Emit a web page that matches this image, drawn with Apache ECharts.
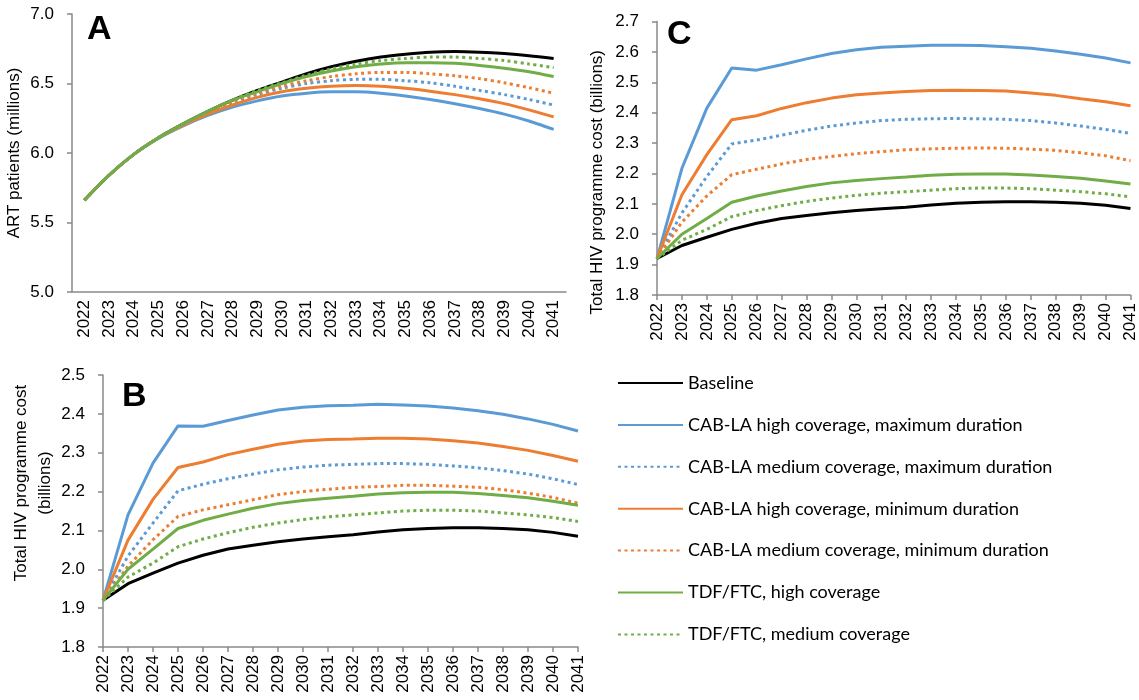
<!DOCTYPE html>
<html>
<head>
<meta charset="utf-8">
<script src="https://cdn.jsdelivr.net/npm/echarts@6/dist/echarts.min.js"></script>
<style>
  html, body { margin: 0; background: #fff; }
  #chart { width: 1139px; height: 700px; }
</style>
</head>
<body>
<div id="chart"></div>
<script>
const years = ['2022', '2023', '2024', '2025', '2026', '2027', '2028', '2029', '2030', '2031',
  '2032', '2033', '2034', '2035', '2036', '2037', '2038', '2039', '2040', '2041']

const names = [
  'Baseline',
  'CAB-LA high coverage, maximum duration',
  'CAB-LA medium coverage, maximum duration',
  'CAB-LA high coverage, minimum duration',
  'CAB-LA medium coverage, minimum duration',
  'TDF/FTC, high coverage',
  'TDF/FTC, medium coverage'
]

// A: ART patients (millions)
const artBaseline = [5.66, 5.84, 5.99, 6.11, 6.21, 6.30, 6.38, 6.45, 6.51, 6.57, 6.62, 6.66, 6.69, 6.71, 6.725, 6.73, 6.725, 6.715, 6.70, 6.68]
const artHighMax = [5.66, 5.84, 5.99, 6.105, 6.195, 6.27, 6.33, 6.375, 6.41, 6.43, 6.44, 6.44, 6.43, 6.41, 6.385, 6.355, 6.32, 6.28, 6.23, 6.17]
const artMedMax = [5.66, 5.84, 5.99, 6.11, 6.21, 6.29, 6.36, 6.42, 6.465, 6.50, 6.52, 6.53, 6.53, 6.52, 6.505, 6.48, 6.45, 6.42, 6.385, 6.345]
const artHighMin = [5.66, 5.84, 5.99, 6.11, 6.20, 6.28, 6.345, 6.40, 6.44, 6.465, 6.48, 6.485, 6.48, 6.465, 6.445, 6.42, 6.39, 6.355, 6.31, 6.26]
const artMedMin = [5.66, 5.84, 5.99, 6.11, 6.21, 6.29, 6.37, 6.43, 6.48, 6.52, 6.55, 6.57, 6.58, 6.58, 6.57, 6.555, 6.535, 6.505, 6.47, 6.43]
const artTdfHigh = [5.66, 5.84, 5.99, 6.11, 6.21, 6.30, 6.38, 6.44, 6.50, 6.55, 6.59, 6.62, 6.64, 6.65, 6.65, 6.645, 6.63, 6.61, 6.585, 6.55]
const artTdfMed = [5.66, 5.84, 5.99, 6.11, 6.21, 6.30, 6.38, 6.45, 6.505, 6.56, 6.605, 6.64, 6.665, 6.68, 6.69, 6.69, 6.68, 6.665, 6.64, 6.615]

// shared by B and C (billions)
const costBaseline = [1.92, 1.963, 1.99, 2.016, 2.036, 2.052, 2.062, 2.071, 2.078, 2.084, 2.089, 2.096, 2.102, 2.105, 2.107, 2.107, 2.105, 2.102, 2.095, 2.085]
const costTdfHigh = [1.92, 2.0, 2.052, 2.105, 2.126, 2.142, 2.157, 2.169, 2.177, 2.183, 2.188, 2.194, 2.197, 2.198, 2.198, 2.195, 2.19, 2.184, 2.175, 2.165]
const costTdfMed = [1.92, 1.98, 2.016, 2.058, 2.078, 2.094, 2.108, 2.119, 2.128, 2.135, 2.14, 2.145, 2.15, 2.152, 2.152, 2.15, 2.145, 2.14, 2.133, 2.123]

// C
const cHighMax = [1.92, 2.217, 2.415, 2.547, 2.54, 2.558, 2.577, 2.595, 2.607, 2.615, 2.619, 2.622, 2.622, 2.621, 2.617, 2.612, 2.603, 2.592, 2.58, 2.564]
const cMedMax = [1.92, 2.07, 2.19, 2.297, 2.31, 2.326, 2.342, 2.356, 2.366, 2.374, 2.378, 2.38, 2.381, 2.38, 2.378, 2.374, 2.366, 2.356, 2.345, 2.332]
const cHighMin = [1.92, 2.13, 2.262, 2.377, 2.39, 2.414, 2.433, 2.448, 2.459, 2.465, 2.47, 2.473, 2.474, 2.473, 2.471, 2.465, 2.457, 2.446, 2.436, 2.423]
const cMedMin = [1.92, 2.04, 2.126, 2.196, 2.214, 2.231, 2.246, 2.256, 2.265, 2.272, 2.278, 2.281, 2.283, 2.284, 2.283, 2.28, 2.276, 2.268, 2.258, 2.242]

// B
const bHighMax = [1.92, 2.14, 2.273, 2.369, 2.368, 2.383, 2.397, 2.41, 2.417, 2.421, 2.422, 2.425, 2.423, 2.42, 2.415, 2.408, 2.399, 2.387, 2.373, 2.356]
const bMedMax = [1.92, 2.034, 2.119, 2.202, 2.219, 2.233, 2.245, 2.256, 2.263, 2.268, 2.27, 2.272, 2.272, 2.27, 2.266, 2.261, 2.254, 2.245, 2.233, 2.218]
const bHighMin = [1.92, 2.075, 2.18, 2.262, 2.276, 2.295, 2.309, 2.322, 2.33, 2.334, 2.335, 2.337, 2.337, 2.335, 2.331, 2.325, 2.316, 2.306, 2.293, 2.278]
const bMedMin = [1.92, 2.008, 2.076, 2.136, 2.153, 2.166, 2.179, 2.192, 2.2, 2.206, 2.211, 2.213, 2.216, 2.216, 2.214, 2.211, 2.205, 2.196, 2.185, 2.17]

const colors = ['#000000', '#5b9bd5', '#5b9bd5', '#ed7d31', '#ed7d31', '#70ad47', '#70ad47']
const dotted = [false, false, true, false, true, false, true]

const axisGray = '#898989'
const tickFont = { fontFamily: 'Liberation Sans', fontSize: 17, color: '#000' }

function xAxis(gridIndex, gap) {
  return {
    type: 'category',
    gridIndex,
    data: years,
    boundaryGap: gap,
    axisLine: { lineStyle: { color: axisGray, width: 1.5 } },
    axisTick: { length: 5, lineStyle: { color: axisGray, width: 1.5 } },
    axisLabel: { ...tickFont, rotate: 90, interval: 0, margin: 8 }
  }
}

// namePad shifts the rotated title along the axis (left pad = up, right pad = down)
function yAxis(gridIndex, min, max, interval, name, nameGap, namePad) {
  return {
    type: 'value',
    gridIndex,
    min, max, interval,
    name,
    nameLocation: 'middle',
    nameGap,
    nameTextStyle: {
      fontFamily: 'Liberation Sans', fontSize: 17, color: '#000', lineHeight: 24,
      padding: namePad
    },
    axisLine: { show: true, lineStyle: { color: axisGray, width: 1.5 } },
    axisTick: { show: true, length: 5, lineStyle: { color: axisGray, width: 1.5 } },
    axisLabel: { ...tickFont, margin: 18, formatter: (v) => v.toFixed(1) },
    splitLine: { show: false }
  }
}

const panels = [
  [artBaseline, artHighMax, artMedMax, artHighMin, artMedMin, artTdfHigh, artTdfMed],
  [costBaseline, cHighMax, cMedMax, cHighMin, cMedMin, costTdfHigh, costTdfMed],
  [costBaseline, bHighMax, bMedMax, bHighMin, bMedMin, costTdfHigh, costTdfMed]
]

const series = []
panels.forEach((sets, p) => {
  sets.forEach((data, i) => {
    series.push({
      name: names[i],
      type: 'line',
      xAxisIndex: p,
      yAxisIndex: p,
      data,
      symbol: 'none',
      smooth: p === 0 ? 0.3 : false,
      color: colors[i],
      lineStyle: {
        color: colors[i],
        width: 3,
        type: dotted[i] ? [3, 3.5] : 'solid'
      }
    })
  })
})

const letter = (text, left, top) => ({
  text, left, top, padding: 0,
  textStyle: { fontFamily: 'Liberation Sans', fontSize: 34, fontWeight: 'bold', color: '#000' }
})

const option = {
  animation: false,
  title: [letter('A', 87, 13), letter('C', 667, 18), letter('B', 122, 380)],
  grid: [
    { left: 72, top: 14, width: 494, height: 278 },
    { left: 657, top: 13, width: 476, height: 282 },
    { left: 103, top: 375, width: 475, height: 272 }
  ],
  xAxis: [xAxis(0, true), xAxis(1, false), xAxis(2, false)],
  yAxis: [
    yAxis(0, 5, 7, 0.5, 'ART patients (millions)', 39, 0),
    yAxis(1, 1.8, 2.7, 0.1, 'Total HIV programme cost (billions)', 48, [0, 48, 0, 0]),
    yAxis(2, 1.8, 2.5, 0.1, 'Total HIV programme cost\n(billions)', 45, [0, 0, 0, 56])
  ],
  legend: {
    data: names,
    orient: 'vertical',
    left: 617,
    top: 374,
    padding: 0,
    itemWidth: 65,
    itemHeight: 14,
    itemGap: 23.9,
    itemStyle: { opacity: 0 },
    textStyle: { fontFamily: 'Lato', fontSize: 18, color: '#000' }
  },
  series
}

const myChart = echarts.init(document.getElementById('chart'))
myChart.setOption(option)
</script>
</body>
</html>
